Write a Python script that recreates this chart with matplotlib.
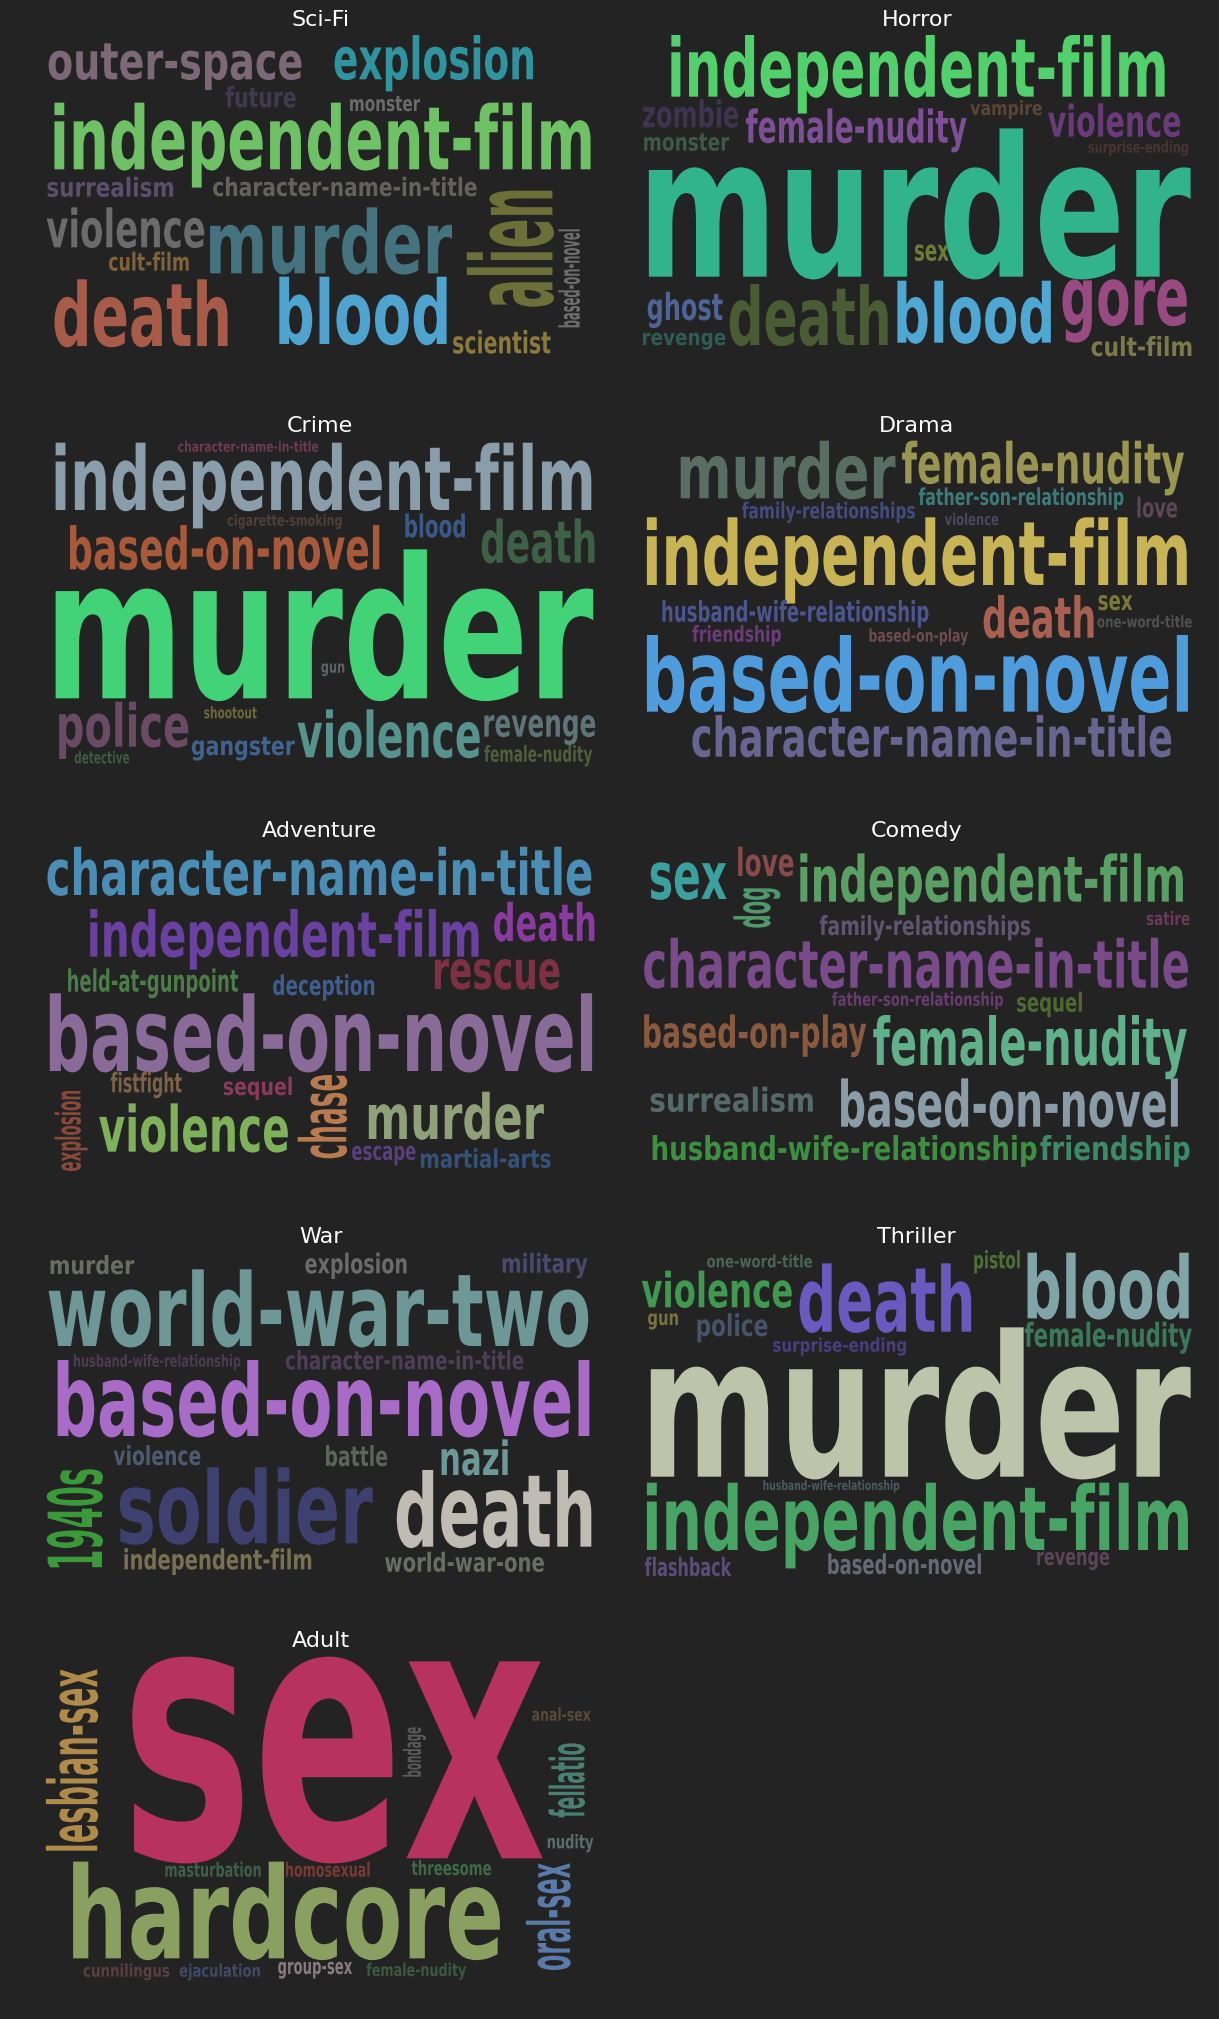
import matplotlib
matplotlib.use("Agg")
import matplotlib.pyplot as plt
from matplotlib.textpath import TextPath
from matplotlib.patches import PathPatch
from matplotlib.font_manager import FontProperties
from matplotlib.transforms import Affine2D

# ---------------- data: keywords and their word-cloud sizes (px) ----------------
GENRES = ["Sci-Fi", "Horror", "Crime", "Drama", "Adventure",
          "Comedy", "War", "Thriller", "Adult"]

SCIFI_WORDS = ["outer-space", "explosion", "future", "monster", "independent-film",
               "surrealism", "character-name-in-title", "violence", "murder", "cult-film",
               "alien", "based-on-novel", "death", "blood", "scientist"]
SCIFI_SIZES = [36, 44.3, 21.3, 15, 66.7, 20, 19.3, 40, 66, 19, 85.6, 21.4, 66.7, 67.3, 23.3]

HORROR_WORDS = ["independent-film", "zombie", "monster", "female-nudity", "vampire",
                "violence", "surprise-ending", "murder", "sex", "ghost", "revenge",
                "death", "blood", "gore", "cult-film"]
HORROR_SIZES = [61.7, 28, 17.3, 34.3, 15, 33.3, 12, 148.3, 16.3, 28.3, 12.3, 61, 62, 45.7, 20]

CRIME_WORDS = ["character-name-in-title", "independent-film", "cigarette-smoking", "blood",
               "death", "based-on-novel", "murder", "gun", "shootout", "police", "gangster",
               "violence", "revenge", "detective", "female-nudity"]
CRIME_SIZES = [11, 67.3, 11.7, 24, 44.3, 44.3, 149, 9.3, 12.3, 45, 18.3, 48, 21.7, 12.7, 16.7]

DRAMA_WORDS = ["murder", "female-nudity", "father-son-relationship", "family-relationships",
               "love", "violence", "independent-film", "husband-wife-relationship",
               "friendship", "based-on-play", "death", "sex", "one-word-title",
               "based-on-novel", "character-name-in-title"]
DRAMA_SIZES = [57.7, 42.7, 17.7, 16.7, 20.7, 12.3, 67.7, 21.7, 16.7, 13.3, 42.7, 15, 12.3, 76.7, 41.7]

ADVENTURE_WORDS = ["character-name-in-title", "independent-film", "death", "rescue",
                   "held-at-gunpoint", "deception", "based-on-novel", "fistfight", "sequel",
                   "chase", "explosion", "violence", "murder", "escape", "martial-arts"]
ADVENTURE_SIZES = [48.3, 47.7, 39.3, 30, 23.3, 20.7, 77.7, 20.7, 18.3, 48.6, 26.1, 48.3, 47.3, 14.3, 19.3]

COMEDY_WORDS = ["sex", "love", "dog", "independent-film", "family-relationships", "satire",
                "character-name-in-title", "father-son-relationship", "sequel",
                "based-on-play", "female-nudity", "surrealism", "based-on-novel",
                "husband-wife-relationship", "friendship"]
COMEDY_SIZES = [36.7, 29.3, 36.6, 48.3, 20, 14, 50, 14, 20, 33.3, 50, 25, 48.3, 25, 25]

WAR_WORDS = ["murder", "explosion", "military", "world-war-two", "husband-wife-relationship",
             "character-name-in-title", "based-on-novel", "violence", "battle", "nazi",
             "soldier", "death", "1940s", "independent-film", "world-war-one"]
WAR_SIZES = [19, 20.7, 20, 76.7, 12.7, 19.3, 76, 20, 21, 35.7, 76, 76.7, 55.3, 21, 20]

THRILLER_WORDS = ["one-word-title", "pistol", "violence", "death", "blood", "gun", "police",
                  "surprise-ending", "female-nudity", "murder", "husband-wife-relationship",
                  "independent-film", "flashback", "based-on-novel", "revenge"]
THRILLER_SIZES = [13, 18.3, 36.7, 68.3, 65.7, 11.7, 22.7, 14.3, 25, 149.3, 10, 67.3, 19.3, 20.7, 13.3]

ADULT_WORDS = ["sex", "lesbian-sex", "anal-sex", "bondage", "fellatio", "nudity",
               "masturbation", "homosexual", "threesome", "oral-sex", "hardcore",
               "cunnilingus", "ejaculation", "group-sex", "female-nudity"]
ADULT_SIZES = [201.7, 51.4, 13.3, 18.3, 35.8, 14.3, 15, 15, 15, 44, 96.7, 13.3, 13.3, 12.3, 13.3]

# ---------------- layout (panel-local units) and styles ----------------
# horizontal: (x_left, x_right, baseline_y, 0); vertical: (y_start, y_end, baseline_x, 90)
SCIFI_BOX = [(125, 775, 238, 0), (860, 1370, 238, 0), (580, 760, 322, 0), (900, 1080, 333, 0),
             (140, 1518, 508, 0), (122, 445, 590, 0), (548, 1225, 588, 0), (120, 525, 742, 0),
             (540, 1162, 820, 0), (280, 485, 812, 0), (920, 572, 1420, 90), (982, 688, 1490, 90),
             (140, 585, 1038, 0), (718, 1148, 1032, 0), (1165, 1415, 1060, 0)]
HORROR_BOX = [(158, 1428, 290, 0), (85, 330, 382, 0), (88, 307, 452, 0), (350, 918, 428, 0),
              (928, 1112, 345, 0), (1128, 1468, 410, 0), (1232, 1488, 458, 0), (100, 1495, 830, 0),
              (785, 872, 782, 0), (97, 290, 960, 0), (85, 297, 1035, 0), (308, 715, 1035, 0),
              (740, 1135, 1028, 0), (1165, 1485, 975, 0), (1240, 1497, 1068, 0)]
CRIME_BOX = [(458, 818, 155, 0), (143, 1520, 330, 0), (585, 878, 377, 0), (1042, 1195, 412, 0),
             (1238, 1528, 488, 0), (180, 975, 508, 0), (143, 1525, 895, 0), (826, 885, 818, 0),
             (525, 660, 955, 0), (152, 484, 1040, 0), (493, 758, 1065, 0), (765, 1233, 1072, 0),
             (1245, 1530, 1010, 0), (192, 332, 1090, 0), (1245, 1522, 1085, 0)]
DRAMA_BOX = [(182, 735, 295, 0), (752, 1478, 250, 0), (795, 1322, 315, 0), (340, 785, 355, 0),
             (1358, 1460, 352, 0), (862, 1000, 375, 0), (95, 1485, 555, 0), (135, 820, 665, 0),
             (212, 440, 725, 0), (668, 922, 725, 0), (962, 1245, 713, 0), (1258, 1345, 630, 0),
             (1255, 1498, 682, 0), (95, 1488, 935, 0), (212, 1445, 1070, 0)]
ADVENTURE_BOX = [(122, 1520, 270, 0), (232, 1230, 455, 0), (1270, 1528, 408, 0), (1118, 1438, 552, 0),
                 (175, 612, 560, 0), (702, 962, 570, 0), (128, 1522, 798, 0), (285, 467, 862, 0),
                 (575, 750, 870, 0), (1060, 810, 890, 90), (1098, 858, 207, 90), (255, 740, 1040, 0),
                 (948, 1398, 1002, 0), (905, 1068, 1065, 0), (1082, 1415, 1088, 0)]
COMEDY_BOX = [(105, 300, 282, 0), (330, 472, 213, 0), (368, 250, 412, 90), (490, 1475, 290, 0),
              (540, 1082, 390, 0), (1382, 1492, 360, 0), (88, 1488, 548, 0), (572, 1012, 602, 0),
              (1048, 1215, 620, 0), (88, 660, 728, 0), (678, 1485, 780, 0), (105, 522, 920, 0),
              (595, 1462, 965, 0), (110, 1098, 1065, 0), (1108, 1492, 1065, 0)]
WAR_BOX = [(130, 345, 192, 0), (785, 1045, 190, 0), (1292, 1510, 188, 0), (125, 1512, 408, 0),
           (190, 618, 470, 0), (735, 1345, 478, 0), (148, 1515, 678, 0), (292, 515, 765, 0),
           (838, 995, 768, 0), (1135, 1305, 795, 0), (308, 958, 1000, 0), (1020, 1520, 1010, 0),
           (1072, 778, 262, 90), (320, 800, 1078, 0), (990, 1398, 1085, 0)]
THRILLER_BOX = [(250, 520, 172, 0), (938, 1055, 175, 0), (82, 468, 292, 0), (488, 930, 365, 0),
                (1075, 1490, 325, 0), (98, 175, 345, 0), (225, 405, 378, 0), (420, 762, 425, 0),
                (1068, 1498, 410, 0), (105, 1495, 800, 0), (395, 745, 840, 0), (95, 1488, 1020, 0),
                (90, 313, 1098, 0), (562, 955, 1092, 0), (1100, 1285, 1065, 0)]
ADULT_BOX = [(340, 1395, 745, 0), (722, 178, 250, 90), (1368, 1518, 332, 0), (500, 352, 1082, 90),
             (622, 400, 1502, 90), (1408, 1525, 715, 0), (425, 670, 800, 0), (735, 950, 800, 0),
             (1058, 1262, 795, 0), (1080, 760, 1465, 90), (188, 1285, 1045, 0), (215, 435, 1100, 0),
             (462, 668, 1100, 0), (715, 905, 1092, 0), (942, 1198, 1098, 0)]

SCIFI_COLORS = ["#7d6878", "#2e94a0", "#3f3a4f", "#6b6b6b", "#6ec164", "#5c4f6e", "#63625c",
                "#6b6b6b", "#44737f", "#80623b", "#6c7038", "#6e6e6e", "#a85b49", "#4fa3cf", "#8b7a3d"]
HORROR_COLORS = ["#52d06c", "#3d3550", "#3e5a44", "#7e4f96", "#5a4536", "#6a3a7a", "#473433",
                 "#31b48c", "#6e7a38", "#4f6496", "#2f5c56", "#4a5c33", "#4fa8d3", "#9a4a82", "#7d7a4a"]
CRIME_COLORS = ["#6e3a50", "#8a9dab", "#4f4038", "#3a5a8a", "#3d6046", "#a8593a", "#42d278",
                "#5c6468", "#6b6838", "#6a4a64", "#3f6490", "#56938e", "#5f7478", "#3f5a3f", "#4d6038"]
DRAMA_COLORS = ["#586e62", "#9a9550", "#3e7a7a", "#434c80", "#5e4658", "#4a4760", "#c9b455",
                "#4b5590", "#6d3a7a", "#6e4b52", "#a86050", "#7a7a36", "#505050", "#4f9cdc", "#6a6490"]
ADVENTURE_COLORS = ["#4a8db5", "#6a40a0", "#8a3aa0", "#7f3048", "#4a7d48", "#3d5e8e", "#8a6a98",
                    "#7d6245", "#8a3a5a", "#b87a4f", "#8a4a3a", "#7fb05a", "#90a078", "#5a3e7e", "#34527a"]
COMEDY_COLORS = ["#3aa0a0", "#8a4a4a", "#4e9a6a", "#5aa064", "#5e5670", "#6a3a5a", "#7a4a8a",
                 "#6a3a72", "#4e6a30", "#8a5a3e", "#60b08a", "#566a6a", "#8a9ca8", "#3d9040", "#3d8a6a"]
WAR_COLORS = ["#6a6e60", "#6a6a6a", "#4a4a70", "#6e9898", "#4e3a52", "#4e3e58", "#a86cc8",
              "#4e5a70", "#5a6658", "#6e9898", "#3e4070", "#c0bcb4", "#3a9a3a", "#7a7050", "#6a6e60"]
THRILLER_COLORS = ["#4a6458", "#4e7038", "#3f9a50", "#6a5abf", "#80a4a8", "#7a7040", "#46546a",
                   "#4a3e80", "#3a7a5a", "#bec4aa", "#4a5a60", "#48a464", "#5a4e78", "#646a78", "#5a4658"]
ADULT_COLORS = ["#b83260", "#b08a48", "#5a4a3a", "#5a5a5a", "#4a8070", "#5a6e6a", "#3e6048",
                "#7a3a34", "#3e6a48", "#5a7aaa", "#8aa060", "#5a3e44", "#3e4a68", "#8a7a80", "#3a5a40"]

PANELS = [
    (SCIFI_WORDS, SCIFI_SIZES, SCIFI_BOX, SCIFI_COLORS),
    (HORROR_WORDS, HORROR_SIZES, HORROR_BOX, HORROR_COLORS),
    (CRIME_WORDS, CRIME_SIZES, CRIME_BOX, CRIME_COLORS),
    (DRAMA_WORDS, DRAMA_SIZES, DRAMA_BOX, DRAMA_COLORS),
    (ADVENTURE_WORDS, ADVENTURE_SIZES, ADVENTURE_BOX, ADVENTURE_COLORS),
    (COMEDY_WORDS, COMEDY_SIZES, COMEDY_BOX, COMEDY_COLORS),
    (WAR_WORDS, WAR_SIZES, WAR_BOX, WAR_COLORS),
    (THRILLER_WORDS, THRILLER_SIZES, THRILLER_BOX, THRILLER_COLORS),
    (ADULT_WORDS, ADULT_SIZES, ADULT_BOX, ADULT_COLORS),
]

# panel placement in figure pixels (left, top, width, height) and title anchor (local units)
FIG_W, FIG_H = 1219, 2019
COL_X = [(0, 610), (610, 609)]
ROW_Y = [0, 400, 805, 1210, 1610]
PANEL_H = 400
LOCAL_W, LOCAL_H = 1568, 1200
TITLE_POS = [(825, 78), (792, 78), (822, 95), (790, 95), (822, 97),
             (790, 97), (825, 98), (790, 98), (825, 112)]

BG = "#232323"
FONT = FontProperties(family="DejaVu Sans", weight="bold")


def draw_word(ax, word, size, box, color, xs, ys):
    tp = TextPath((0, 0), word, size=1, prop=FONT)
    ext = tp.get_extents()
    xmin, xmax, ymax = ext.x0, ext.x1, ext.y1
    a, b, c, rot = box
    if rot == 0:
        s = size * ys / ymax
        sx = (b - a) / (xmax - xmin)
        tr = Affine2D().translate(-xmin, 0).scale(sx, -s).translate(a, c)
    else:
        s = size * xs / ymax
        sx = (a - b) / (xmax - xmin)
        tr = Affine2D.from_values(0, -sx, -s, 0, c, a + xmin * sx)
    patch = PathPatch(tr.transform_path(tp), facecolor=color, edgecolor="none", lw=0)
    ax.add_patch(patch)


fig = plt.figure(figsize=(FIG_W / 100, FIG_H / 100), dpi=100, facecolor=BG)

for i, (genre, (words, sizes, boxes, colors)) in enumerate(zip(GENRES, PANELS)):
    r, c = divmod(i, 2)
    x0, w = COL_X[c]
    y0 = ROW_Y[r]
    ax = fig.add_axes([x0 / FIG_W, 1 - (y0 + PANEL_H) / FIG_H, w / FIG_W, PANEL_H / FIG_H])
    ax.set_xlim(0, LOCAL_W)
    ax.set_ylim(LOCAL_H, 0)
    ax.axis("off")
    ax.patch.set_alpha(0)
    xs = LOCAL_W / w
    ys = LOCAL_H / PANEL_H
    for word, size, box, color in zip(words, sizes, boxes, colors):
        draw_word(ax, word, size, box, color, xs, ys)
    tx, ty = TITLE_POS[i]
    ax.text(tx, ty, genre, ha="center", va="baseline", fontsize=16,
            color="white", family="DejaVu Sans")

fig.savefig("out.png", dpi=100, facecolor=BG)
